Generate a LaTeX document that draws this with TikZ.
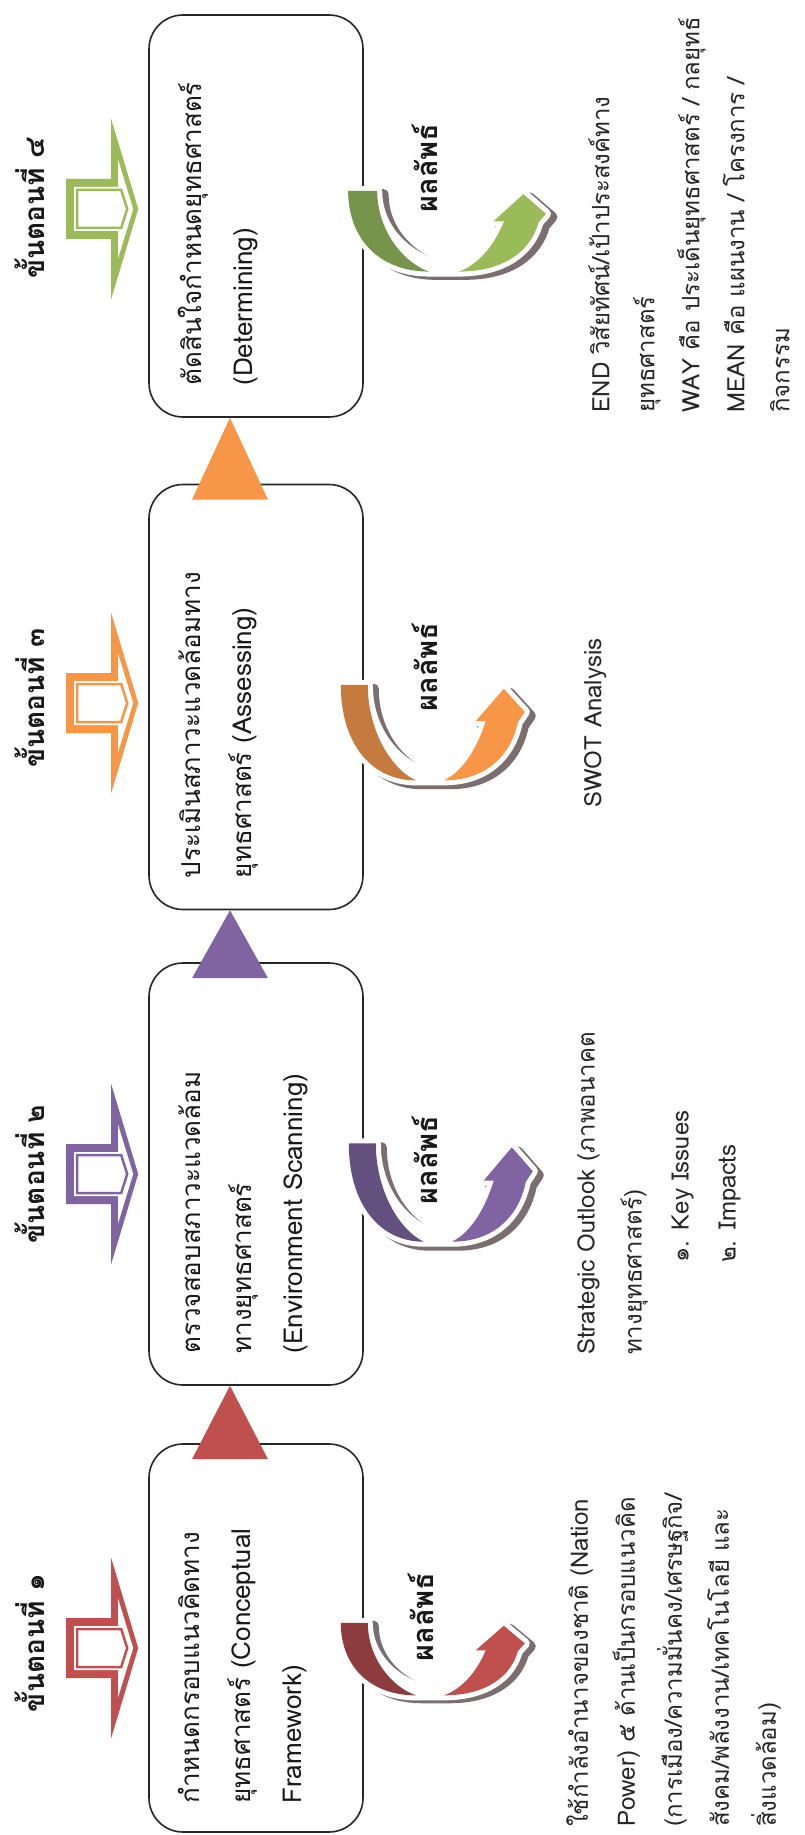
\documentclass[tikz,border=0pt]{standalone}
\usepackage{fontspec}
\setmainfont{Loma}[Script=Thai]
\usetikzlibrary{calc}

\definecolor{redlt}{HTML}{C0504D}
\definecolor{reddk}{HTML}{8E3B3D}
\definecolor{purplt}{HTML}{8064A2}
\definecolor{purpdk}{HTML}{63507F}
\definecolor{orglt}{HTML}{F79646}
\definecolor{orgdk}{HTML}{C57A40}
\definecolor{grnlt}{HTML}{9BBB59}
\definecolor{grndk}{HTML}{76944A}
\definecolor{arrshadow}{HTML}{7A6E70}
\definecolor{txt}{HTML}{262626}

\tikzset{
  stage/.style={draw=black!85, line width=1.6, rounded corners=34, minimum width=214, minimum height=#1, inner sep=0},
  stagetext/.style={rotate=90, anchor=north west, align=left, inner sep=0, text=black!90, font=\fontsize{26}{51}\selectfont},
  outtext/.style={rotate=90, anchor=north west, align=left, inner sep=0, text=txt, font=\fontsize{24}{47}\selectfont},
  steplabel/.style={rotate=90, inner sep=0, text=black!90, font=\bfseries\fontsize{28}{32}\selectfont},
  result/.style={rotate=90, inner sep=0, text=black!90, font=\bfseries\fontsize{29}{32}\selectfont},
  pics/steparrow/.style={code={
    \fill[#1] (0,0) -- (-27,-90) -- (-27,-30) -- (-72,-30) -- (-72,30) -- (-27,30) -- (-27,90) -- cycle;
    \fill[white] (-5,0) -- (-20,-49) -- (-20,-22) -- (-64,-22) -- (-64,22) -- (-20,22) -- (-20,49) -- cycle;
    \draw[#1, line width=2.5] (-11,0) -- (-17,-19) -- (-61,-19) -- (-61,19) -- (-17,19) -- cycle;
  }},
  pics/outarrow/.style 2 args={code={
    \def\dkpart{(5,10) .. controls (5,55) and (35,84) .. (80,84) .. controls (55,75) and (32,45) .. (32,10) -- cycle}
    \def\ltpart{(108,84) .. controls (150,84) and (175,65) .. (182,39) -- (189,31) -- (168,13) -- (140,38) -- (150,38) .. controls (140,62) and (125,78) .. (108,84) -- cycle}
    \def\hullpart{(5,10) .. controls (5,55) and (35,84) .. (80,84) -- (108,84) .. controls (150,84) and (175,65) .. (182,39) -- (189,31) -- (168,13) -- (140,38) -- (150,38) .. controls (140,62) and (118,78) .. (94,79) .. controls (60,72) and (32,45) .. (32,10) -- cycle}
    \begin{scope}[shift={(6,3)}]
      \filldraw[arrshadow, line width=10, line join=round] \hullpart;
    \end{scope}
    \filldraw[white, line width=10, line join=round] \hullpart;
    \fill[#1] \dkpart;
    \fill[#2] \ltpart;
  }}
}

\begin{document}
\begin{tikzpicture}[x=1pt, y=-1pt]
\useasboundingbox[fill=white] (0,0) rectangle (805,1835);

% the four stages
\node[stage=388] (box1) at (256,1638) {};
\node[stage=422] (box2) at (256,1174) {};
\node[stage=425] (box3) at (256,697) {};
\node[stage=402] (box4) at (256,216) {};

\node[stagetext] (t1) at ($(box1.south west)+(30,-29)$) {กำหนดกรอบแนวคิดทาง\\ยุทธศาสตร์ (Conceptual\\Framework)};
\node[stagetext] (t2) at ($(box2.south west)+(30,-32)$) {ตรวจสอบสภาวะแวดล้อม\\ทางยุทธศาสตร์\\(Environment Scanning)};
\node[stagetext] (t3) at ($(box3.south west)+(30,-32)$) {ประเมินสภาวะแวดล้อมทาง\\ยุทธศาสตร์ (Assessing)};
\node[stagetext] (t4) at ($(box4.south west)+(30,-32)$) {ตัดสินใจกำหนดยุทธศาสตร์\\(Determining)};

% triangles from one stage to the next
\fill[redlt] ($(box2.south)+(-26,0)$) -- ($(box1.north)+(12,16)$) -- ($(box1.north)+(-64,16)$) -- cycle;
\fill[purplt] ($(box3.south)+(-26,0)$) -- ($(box2.north)+(12,16)$) -- ($(box2.north)+(-64,16)$) -- cycle;
\fill[orglt] ($(box4.south)+(-26,0)$) -- ($(box3.north)+(12,16)$) -- ($(box3.north)+(-64,16)$) -- cycle;

% step arrows and labels
\pic at ($(box1.west)+(-10,10)$) {steparrow=redlt};
\pic at ($(box2.west)+(-10,0)$) {steparrow=purplt};
\pic at ($(box3.west)+(-10,6)$) {steparrow=orglt};
\pic at ($(box4.west)+(-10,-7)$) {steparrow=grnlt};
\node[steplabel] (s1) at ($(box1.west)+(-118,5)$) {ขั้นตอนที่ ๑};
\node[steplabel] (s2) at ($(box2.west)+(-118,0)$) {ขั้นตอนที่ ๒};
\node[steplabel] (s3) at ($(box3.west)+(-118,1)$) {ขั้นตอนที่ ๓};
\node[steplabel] (s4) at ($(box4.west)+(-118,-8)$) {ขั้นตอนที่ ๔};

% outputs
\pic[yscale=0.98] at ($(box1.east)+(-28,-25)$) {outarrow={reddk}{redlt}};
\pic[yscale=1.33] at ($(box2.east)+(-20,-44)$) {outarrow={purpdk}{purplt}};
\pic[yscale=1.29] at ($(box3.east)+(-28,-25)$) {outarrow={orgdk}{orglt}};
\pic[xscale=1.075, yscale=1.09] at ($(box4.east)+(-21,-36)$) {outarrow={grndk}{grnlt}};
\node[result] (r1) at ($(box1.east)+(57,-21)$) {ผลลัพธ์};
\node[result] (r2) at ($(box2.east)+(61,-14)$) {ผลลัพธ์};
\node[result] (r3) at ($(box3.east)+(61,-30)$) {ผลลัพธ์};
\node[result] (r4) at ($(box4.east)+(61,-48)$) {ผลลัพธ์};

\node[outtext] (o1) at (566,1827) {ใช้กำลังอำนาจของชาติ (Nation\\Power) ๕ ด้านเป็นกรอบแนวคิด\\(การเมือง/ความมั่นคง/เศรษฐกิจ/\\สังคม/พลังงาน/เทคโนโลยี และ\\สิ่งแวดล้อม)};
\node[outtext] (o2) at (577,1355) {Strategic Outlook (ภาพอนาคต\\ทางยุทธศาสตร์)\\\hspace*{92pt}๑. Key Issues\\\hspace*{92pt}๒. Impacts};
\node[outtext] (o3) at (584,808) {SWOT Analysis};
\node[outtext, font=\fontsize{24}{45}\selectfont] (o4) at (588,413) {END วิสัยทัศน์/เป้าประสงค์ทาง\\ยุทธศาสตร์\\WAY คือ ประเด็นยุทธศาสตร์ / กลยุทธ์\\MEAN คือ แผนงาน / โครงการ /\\กิจกรรม};
\end{tikzpicture}
\end{document}
